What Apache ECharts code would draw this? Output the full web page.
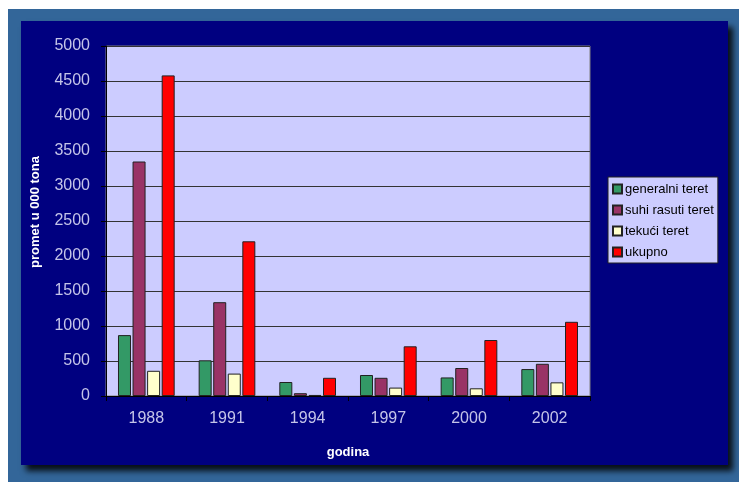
<!DOCTYPE html>
<html lang="hr">
<head>
    <meta charset="UTF-8">
    <title>promet u 000 tona</title>
    <style>
        html, body { margin: 0; padding: 0; background: #fff; }
        #chart { width: 739px; height: 482px; }
    </style>
</head>
<body>
<div id="chart"></div>
<script src="https://cdn.jsdelivr.net/npm/echarts@6/dist/echarts.min.js"></script>
<script>
    // godine
    var years = ['1988', '1991', '1994', '1997', '2000', '2002'];
    var seriesNames = ['generalni teret', 'suhi rasuti teret', 'tekući teret', 'ukupno'];
    var generalni = [870, 510, 200, 300, 265, 385];
    var suhiRasuti = [3350, 1340, 40, 260, 400, 460];
    var tekuci = [360, 320, 15, 120, 110, 195];
    var ukupno = [4580, 2210, 260, 710, 800, 1060];
    var colors = ['#339966', '#993366', '#FFFFCC', '#FF0000'];

    var chart = echarts.init(document.getElementById('chart'));
    var font = 'Liberation Sans, Arial';

    function bar(name, data, i) {
        return {
            name: name,
            type: 'bar',
            barWidth: 13,
            barGap: '12%',
            itemStyle: { color: colors[i], borderColor: '#222', borderWidth: 1 },
            data: data
        };
    }

    var option = {
        animation: false,
        graphic: [
            { type: 'rect', z: -10, shape: { x: 8, y: 9, width: 731, height: 473 }, style: { fill: '#336699' } },
            {
                type: 'rect', z: -9, shape: { x: 21, y: 21, width: 707, height: 444 },
                style: { fill: '#000080', shadowBlur: 6, shadowOffsetX: 5, shadowOffsetY: 6, shadowColor: 'rgba(0,0,0,0.85)' }
            },
            // naziv y osi
            {
                type: 'text', z: 10, x: 35, y: 212, rotation: Math.PI / 2,
                style: {
                    text: 'promet u 000 tona', fill: '#fff', font: 'bold 13px ' + font,
                    align: 'center', verticalAlign: 'middle'
                }
            }
        ],
        legend: {
            orient: 'vertical',
            left: 608,
            top: 177,
            backgroundColor: '#CCCCFF',
            borderColor: '#222',
            borderWidth: 1,
            padding: [5, 4, 4, 4],
            itemWidth: 9,
            itemHeight: 9,
            itemGap: 7,
            icon: 'rect',
            textStyle: { color: '#000', fontSize: 13, fontFamily: font, lineHeight: 14, padding: [0, 0, 0, -2] },
            data: seriesNames
        },
        grid: {
            left: 106, top: 46, width: 484, height: 350,
            show: true, backgroundColor: '#CCCCFF', borderColor: '#808080', borderWidth: 1
        },
        xAxis: {
            type: 'category',
            data: years,
            name: 'godina',
            nameLocation: 'middle',
            nameGap: 50,
            nameTextStyle: { color: '#fff', fontWeight: 'bold', fontSize: 13, fontFamily: font },
            axisLine: { lineStyle: { color: '#000', width: 1 } },
            axisTick: { show: true, length: 5, lineStyle: { color: '#000' } },
            axisLabel: { color: '#C4C4E8', fontSize: 16, margin: 15, fontFamily: font }
        },
        yAxis: {
            type: 'value',
            min: 0,
            max: 5000,
            interval: 500,
            axisLine: { show: true, lineStyle: { color: '#000', width: 1 } },
            axisTick: { show: true, length: 5, lineStyle: { color: '#000' } },
            axisLabel: {
                color: '#C4C4E8', fontSize: 16, margin: 16, fontFamily: font,
                formatter: function (v) { return String(v); }
            },
            splitLine: { show: true, lineStyle: { color: '#333', width: 1 } }
        },
        series: [
            bar(seriesNames[0], generalni, 0),
            bar(seriesNames[1], suhiRasuti, 1),
            bar(seriesNames[2], tekuci, 2),
            bar(seriesNames[3], ukupno, 3)
        ]
    };
    chart.setOption(option);
</script>
</body>
</html>
